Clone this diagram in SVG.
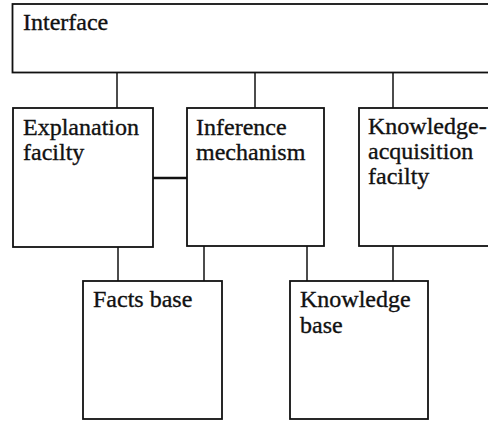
<svg xmlns="http://www.w3.org/2000/svg" width="488" height="421" viewBox="0 0 488 421">
  <style>
    .box { fill: #ffffff; stroke: #111111; stroke-width: 1.8; }
    .link { stroke: #111111; stroke-width: 1.5; fill: none; }
    .thick { stroke-width: 2.4; }
    text { font-family: "Liberation Serif", "Times New Roman", serif; font-size: 24px; fill: #111111; stroke: #111111; stroke-width: 0.35; }
  </style>
  <rect width="488" height="421" fill="#ffffff"/>

  <!-- connectors -->
  <g id="connectors">
    <line class="link" x1="117" y1="72" x2="117" y2="108"/>
    <line class="link" x1="255" y1="72" x2="255" y2="108"/>
    <line class="link" x1="393" y1="72" x2="393" y2="108"/>
    <line class="link thick" x1="153" y1="178" x2="187" y2="178"/>
    <line class="link" x1="118" y1="247" x2="118" y2="281"/>
    <line class="link" x1="204" y1="246" x2="204" y2="281"/>
    <line class="link" x1="307" y1="246" x2="307" y2="281"/>
    <line class="link" x1="393" y1="246" x2="393" y2="281"/>
  </g>

  <g id="interface">
    <rect class="box" x="12.5" y="4" width="490" height="68.5"/>
    <text x="23" y="30">Interface</text>
  </g>

  <g id="explanation">
    <rect class="box" x="13" y="108" width="140" height="139"/>
    <text x="23" y="135">Explanation</text>
    <text x="23" y="160">facilty</text>
  </g>

  <g id="inference">
    <rect class="box" x="187" y="108" width="137" height="138"/>
    <text x="196" y="135">Inference</text>
    <text x="196" y="160">mechanism</text>
  </g>

  <g id="acquisition">
    <rect class="box" x="359" y="108" width="140" height="138"/>
    <text x="368" y="134">Knowledge-</text>
    <text x="368" y="159">acquisition</text>
    <text x="368" y="184">facilty</text>
  </g>

  <g id="facts">
    <rect class="box" x="83" y="281" width="139" height="138"/>
    <text x="93" y="307">Facts base</text>
  </g>

  <g id="knowledge">
    <rect class="box" x="290" y="281" width="138" height="138"/>
    <text x="300" y="307">Knowledge</text>
    <text x="300" y="333">base</text>
  </g>
</svg>
